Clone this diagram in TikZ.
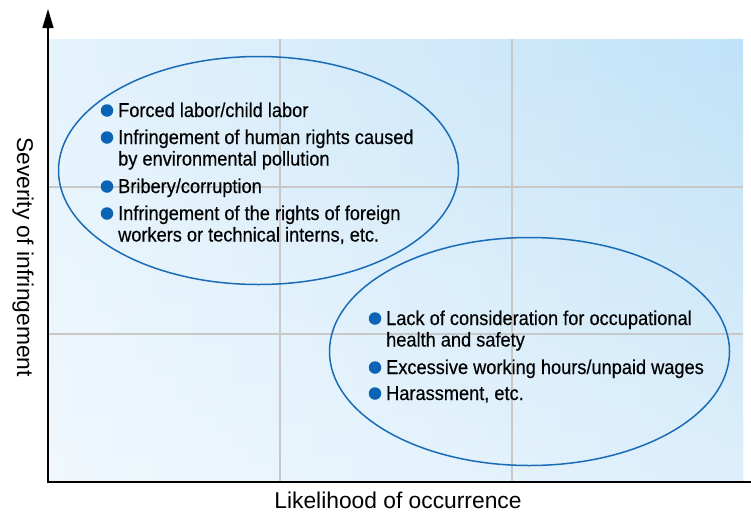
\documentclass[tikz,border=0pt]{standalone}
\usepackage{fontspec}
\setmainfont{Liberation Sans}
\newfontfamily\itemfont[FakeStretch=0.91,FakeBold=0.3]{Liberation Sans}
\usetikzlibrary{shapes.geometric,arrows.meta,fadings}
\definecolor{gridgray}{HTML}{C8C8C8}
\definecolor{ringblue}{HTML}{1A6CB6}
\definecolor{dotblue}{HTML}{0B63B5}
\definecolor{bgleft}{HTML}{E5F3FC}
\definecolor{bgmid}{HTML}{DFF0FB}
\definecolor{bgright}{HTML}{C1E2F8}
\tikzset{
  itemtext/.style={anchor=base west, inner sep=0pt, font=\itemfont\fontsize{20}{22}\selectfont, text=black},
  dot/.style={circle, fill=dotblue, inner sep=0pt, minimum size=12.5pt},
  ring/.style={ellipse, draw=ringblue, line width=1.5pt, inner sep=0pt, minimum width=400pt, minimum height=228pt},
  gridline/.style={draw=gridgray, line width=1.5pt},
  axisline/.style={draw=black, line width=1.5pt},
  axislabel/.style={inner sep=0pt, font=\fontsize{22.8}{24}\selectfont, text=black}
}
\begin{document}
\begin{tikzpicture}[x=1pt,y=-1pt]
\useasboundingbox (0,0) rectangle (751,512);
% background panel
\shade[left color=bgleft, middle color=bgmid, right color=bgright] (48,39) rectangle (743,482);
\fill[white, opacity=0.45, path fading=north] (48,39) rectangle (743,482);
% grid
\draw[gridline] (280,39) -- (280,482);
\draw[gridline] (512,39) -- (512,482);
\draw[gridline] (48,187) -- (743,187);
\draw[gridline] (48,334) -- (743,334);
% axes
\coordinate (origin) at (48,482);
\coordinate (ytip) at (48,9);
\coordinate (xend) at (751,482);
\draw[axisline, -{Triangle[length=19pt,width=11pt]}] (48,483) -- (ytip);
\draw[axisline] (47,482) -- (xend);
% ellipses
\node[ring] (e1) at (258.5,170.5) {};
\node[ring] (e2) at (529.5,351.5) {};
% left group
\node[dot] (d1) at (107,110.5) {};
\node[itemtext] (t1) at (118,117) {Forced labor/child labor};
\node[dot] (d2) at (107,137.5) {};
\node[itemtext] (t2a) at (118,144) {Infringement of human rights caused};
\node[itemtext] (t2b) at (118,165.5) {by environmental pollution};
\node[dot] (d3) at (107,186.5) {};
\node[itemtext] (t3) at (118,193) {Bribery/corruption};
\node[dot] (d4) at (107,213.5) {};
\node[itemtext] (t4a) at (118,220) {Infringement of the rights of foreign};
\node[itemtext] (t4b) at (118,241.5) {workers or technical interns, etc.};
% right group
\node[dot] (d5) at (375,318.5) {};
\node[itemtext] (t5a) at (386,325) {Lack of consideration for occupational};
\node[itemtext] (t5b) at (386,346.5) {health and safety};
\node[dot] (d6) at (375,367.5) {};
\node[itemtext] (t6) at (386,374) {Excessive working hours/unpaid wages};
\node[dot] (d7) at (375,393.5) {};
\node[itemtext] (t7) at (386,400) {Harassment, etc.};
% axis labels
\node[axislabel, anchor=base] (xl) at (398,508.5) {Likelihood of occurrence};
\node[axislabel, anchor=base, rotate=-90] (yl) at (17,257) {Severity of infringement};
\end{tikzpicture}
\end{document}
